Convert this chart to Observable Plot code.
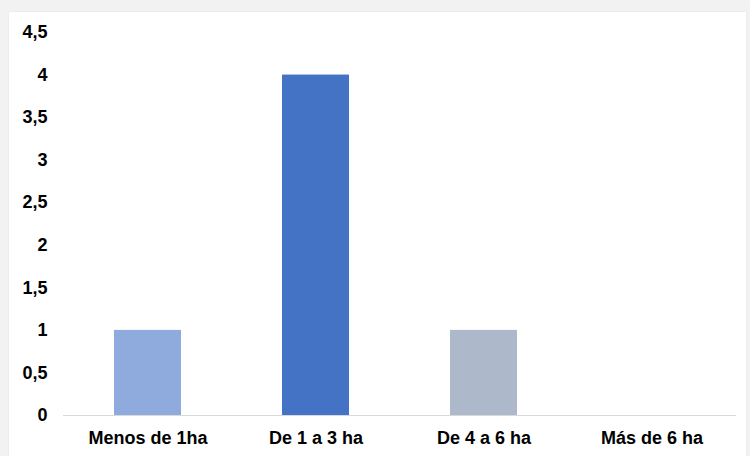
<!DOCTYPE html>
<html>
<head>
<meta charset="utf-8">
<script src="https://cdn.jsdelivr.net/npm/d3@7"></script>
<script src="https://cdn.jsdelivr.net/npm/@observablehq/plot@0.6"></script>
<style>
  html, body { margin: 0; padding: 0; background: #f2f2f2; width: 750px; height: 456px; overflow: hidden; }
  #panel { position: absolute; left: 9px; top: 12px; width: 737px; height: 444px; background: #ffffff; box-shadow: 0 0 2px rgba(0,0,0,0.08); }
  svg { display: block; font-family: "Liberation Sans", Arial, sans-serif; }
</style>
</head>
<body>
<div id="panel"></div>
<script>
const categories = ["Menos de 1ha", "De 1 a 3 ha", "De 4 a 6 ha", "Más de 6 ha"];
const values = [1, 4, 1, 0];
const colors = ["#8faadc", "#4472c4", "#adb9ca", "#a5a5a5"];
const yTicks = [0, 0.5, 1, 1.5, 2, 2.5, 3, 3.5, 4, 4.5];

const data = categories.map((c, i) => ({category: c, value: values[i], color: colors[i]}));

const chart = Plot.plot({
  width: 737,
  height: 444,
  marginTop: 20,
  marginBottom: 41,
  marginLeft: 54,
  marginRight: 10,
  style: {background: "transparent", fontFamily: "'Liberation Sans', Arial, sans-serif"},
  x: {domain: categories, paddingInner: 0.6, paddingOuter: 0.3, label: null, tickSize: 0, tickPadding: 16},
  y: {domain: [0, 4.5], ticks: yTicks, label: null, tickSize: 0, tickPadding: 16,
      tickFormat: d => String(d).replace(".", ",")},
  marks: [
    Plot.barY(data, {x: "category", y: "value", fill: "color"}),
    Plot.ruleY([0], {stroke: "#d9d9d9", strokeWidth: 1})
  ]
});
chart.querySelectorAll("[aria-label='x-axis tick label'] text").forEach(t => { t.style.fontSize = "18px"; t.style.fontWeight = "bold"; t.style.fill = "#000"; });
chart.querySelectorAll("[aria-label='y-axis tick label'] text").forEach(t => { t.style.fontSize = "18px"; t.style.fontWeight = "bold"; t.style.fill = "#000"; });
document.getElementById("panel").appendChild(chart);
</script>
</body>
</html>
